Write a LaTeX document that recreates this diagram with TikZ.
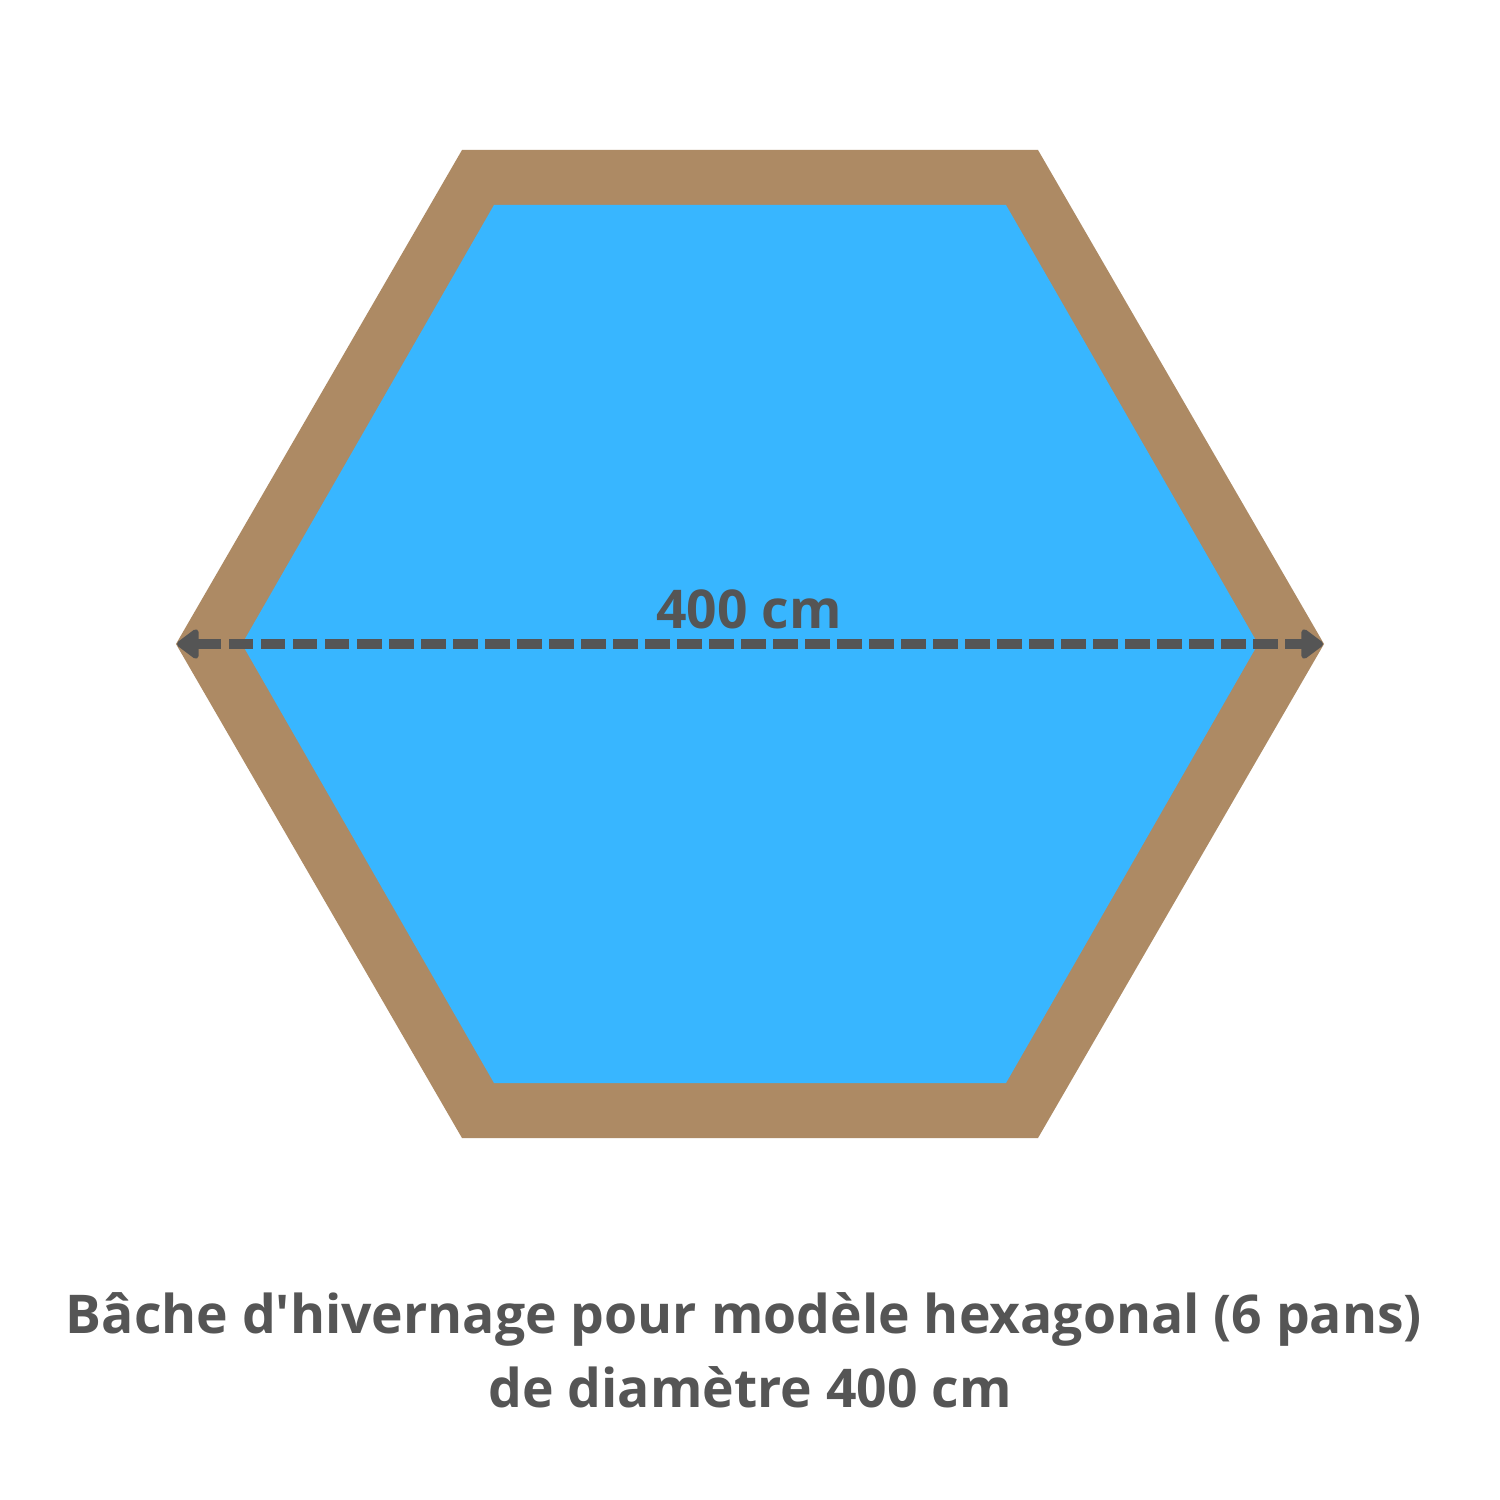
\documentclass[tikz,border=0pt]{standalone}
\usepackage{fontspec}
\setmainfont{Open Sans}
\usetikzlibrary{arrows.meta}
\definecolor{wood}{HTML}{AD8A64}
\definecolor{water}{HTML}{38B6FF}
\definecolor{ink}{HTML}{555555}
\tikzset{
  label text/.style={text=ink, inner sep=0pt, anchor=base},
  dimline/.style={draw=ink, line width=2.85pt, dash pattern=on 6.9pt off 2.2pt,
    {Triangle[round,length=6.8pt,width=9.6pt]}-{Triangle[round,length=6.8pt,width=9.6pt]}}
}
\begin{document}
\begin{tikzpicture}[x=0.01cm,y=-0.01cm]
\useasboundingbox (0,0) rectangle (1500,1500);
\fill[white] (0,0) rectangle (1500,1500);
% outer frame
\fill[wood] (462,150) -- (1038,150) -- (1324,644) -- (1038,1138) -- (462,1138) -- (176,644) -- cycle;
% water
\fill[water] (494,205) -- (1006,205) -- (1258,644) -- (1006,1083) -- (494,1083) -- (242,644) -- cycle;
% dimension
\coordinate (L) at (177,644);
\coordinate (R) at (1323,644);
\draw[dimline] (L) -- (R);
\node[label text, font=\bfseries\fontsize{15.2}{18}\selectfont] (dim) at (749,628) {400 cm};
\node[label text, font=\bfseries\fontsize{15.2}{18}\selectfont] (cap1) at (744,1333) {Bâche d\textquotesingle hivernage pour modèle hexagonal (6 pans)};
\node[label text, font=\bfseries\fontsize{15.2}{18}\selectfont] (cap2) at (750,1407) {de diamètre 400 cm};
\end{tikzpicture}
\end{document}
